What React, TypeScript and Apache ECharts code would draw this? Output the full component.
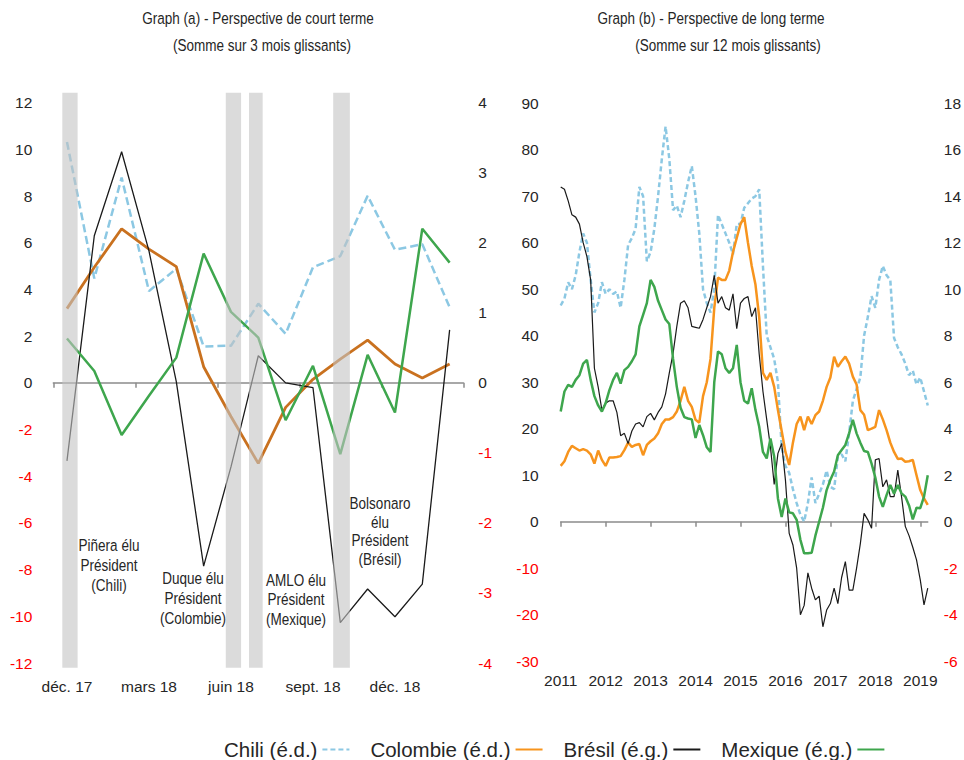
import React, { useEffect, useRef } from 'react';
import * as echarts from 'echarts';

// ---------- Graph (a): short term (3-month rolling sums) ----------
const shortMonths = ['déc. 17', 'janv. 18', 'févr. 18', 'mars 18', 'avr. 18', 'mai 18', 'juin 18', 'juil. 18', 'août 18', 'sept. 18', 'oct. 18', 'nov. 18', 'déc. 18', 'janv. 19', 'févr. 19'];
const shortChili = [3.44, 1.49, 2.93, 1.31, 1.63, 0.52, 0.53, 1.13, 0.70, 1.65, 1.81, 2.67, 1.90, 1.98, 1.08];
const shortColombie = [1.06, 1.65, 2.2, 1.91, 1.66, 0.23, -0.48, -1.15, -0.35, 0.05, 0.34, 0.61, 0.27, 0.07, 0.27];
const shortBresil = [-3.34, 6.3, 9.9, 5.65, 0.05, -7.85, -3.6, 1.16, 0.0, -0.2, -10.27, -8.83, -10.02, -8.62, 2.27];
const shortMexique = [1.9, 0.51, -2.23, -0.55, 1.08, 5.54, 3.04, 1.94, -1.6, 0.73, -3.05, 1.2, -1.27, 6.6, 5.15];
// election periods (in month-index units of graph a)
const electionBands = [[-0.17, 0.39], [5.81, 6.37], [6.66, 7.16], [9.74, 10.35]];
const bandTop = 12.43;
const bandBottom = -12.2;

// ---------- Graph (b): long term (12-month rolling sums) ----------
const longYears = ['2011', '2012', '2013', '2014', '2015', '2016', '2017', '2018', '2019'];
const monthCodes = ['01', '02', '03', '04', '05', '06', '07', '08', '09', '10', '11', '12'];
const longMonths: string[] = [];
longYears.forEach((y) => monthCodes.forEach((m) => longMonths.push(y + '-' + m)));
longMonths.length = 99; // janv. 2011 – mars 2019

const longChili = [
  9.3, 9.6, 10.3, 10.0, 10.6, 11.6, 12.4, 12.0, 10.4, 9.0,
  9.4, 10.3, 9.8, 10.0, 9.8, 9.9, 9.2, 10.4, 11.9, 12.2,
  12.6, 14.4, 14.0, 11.2, 11.6, 12.6, 14.0, 15.6, 17.0, 15.6,
  13.4, 13.6, 13.1, 13.8, 14.6, 15.3, 14.0, 12.4, 10.0, 9.4,
  9.0, 10.0, 13.2, 12.8, 12.4, 12.0, 11.5, 12.8, 12.8, 13.5,
  13.7, 13.9, 14.0, 14.3, 11.0, 8.0, 7.5, 7.0, 6.0, 3.2,
  2.4, 2.1, 1.4, 0.8, 0.3, 0.0, 0.8, 1.9, 0.8, 1.2,
  1.6, 2.2, 1.5, 1.4, 2.8, 2.9, 2.6, 3.8, 5.2, 5.7,
  6.2, 8.0, 8.8, 9.7, 9.2, 10.4, 11.0, 10.6, 10.4, 7.9,
  7.5, 7.2, 6.8, 6.3, 6.5, 5.9, 6.2, 5.6, 5.0,
];
const longColombie = [
  2.4, 2.6, 3.0, 3.26, 3.16, 3.06, 3.12, 3.06, 2.9, 2.5,
  3.06, 2.66, 2.4, 2.76, 2.76, 2.78, 2.82, 3.08, 3.4, 3.22,
  3.3, 3.34, 2.86, 3.3, 3.46, 3.58, 3.8, 4.2, 4.4, 4.4,
  4.5, 4.74, 5.2, 5.8, 5.2, 4.94, 4.38, 4.26, 5.4, 6.0,
  7.0, 9.2, 10.5, 10.4, 10.4, 10.8, 11.6, 12.2, 12.8, 13.1,
  12.0, 11.0, 10.2, 8.8, 6.4, 6.1, 6.4, 5.8, 4.8, 3.9,
  3.0, 2.44, 3.4, 4.2, 4.52, 3.94, 4.52, 4.2, 4.58, 4.74,
  5.2, 5.8, 6.2, 7.1, 6.66, 6.9, 7.1, 6.8, 6.24, 5.9,
  4.8, 4.6, 3.94, 4.0, 4.08, 4.8, 4.4, 3.94, 3.4, 3.0,
  2.7, 2.72, 2.58, 2.6, 2.66, 2.0, 1.36, 1.0, 0.72,
];
const longBresil = [
  72, 71.5, 69, 66, 65.5, 64, 60, 57, 52, 33,
  29, 24, 25.5, 26, 26, 23.5, 18.5, 19, 16.8, 19.5,
  21, 21.3, 20.4, 22.6, 23.3, 21.9, 23.5, 24.7, 27.5, 32,
  36.2, 42, 47, 47.5, 46, 42, 41.8, 41.6, 43.5, 46,
  48.4, 53, 47, 48.4, 46, 45.5, 49, 41.5, 47, 48,
  48.4, 44.1, 46, 36, 28, 22, 16.1, 8, 14.7, 16.8,
  9, -2.5, -5, -10, -20, -18, -11, -14.3, -16.8, -16,
  -22.6, -19, -17.6, -14.3, -17.6, -12, -8.6, -14.7, -14.7, -10,
  -4.7, 1.8, 0.4, -1.4, 13.3, 13.6, 7.5, 9, 5.4, 5.4,
  11.1, 5.4, -1, -3, -5.5, -8.2, -12.5, -17.9, -14.3,
];
const longMexique = [
  23.7, 28, 29.4, 29, 30.5, 31.5, 34, 34.8, 30.5, 27,
  25, 23.7, 25.5, 28.3, 30.5, 32, 29.7, 32.6, 33.3, 34.5,
  36, 42, 44.5, 47, 52, 50.5, 47.5, 45.5, 43.5, 42.5,
  35, 29, 24.5, 22.5, 22.2, 22, 18, 20.8, 18.6, 16,
  15, 30, 36.6, 36, 33, 32, 33, 38, 30, 26,
  25.4, 28.7, 24, 20.4, 15, 13.6, 17.9, 14, 5, 1,
  5, 2, 1.8, 0.4, -3.9, -6.8, -6.8, -6.7, -3, 0,
  3, 6.8, 9, 10.8, 14.3, 15.4, 16.5, 19, 21.9, 19,
  17, 15.2, 15, 12.5, 9.5, 5.4, 3.2, 5.7, 7.9, 6,
  7.9, 6.1, 5.4, 3.5, 0.5, 3, 2.9, 5.4, 10,
];

const seriesNames = ['Chili (é.d.)', 'Colombie (é.d.)', 'Brésil (é.g.)', 'Mexique (é.g.)'];

const FONT = "'Liberation Sans', Arial, Helvetica, sans-serif";
const TXT = '#262626';
const BLUE = '#8cc8e3';
const ORANGE = '#f7941d';
const ORANGE_DARK = '#c9711f';
const GREEN = '#3ea64d';
const BLACK = '#1a1a1a';
const AXIS_GREY = '#8c8c8c';
const TICK_SIZE = 15.5;

const labelColor = (v: any) => (Number(v) < 0 ? '#ff0000' : TXT);

function valueAxis(gridIndex: number, min: number, max: number, interval: number, position: string, margin: number) {
  return {
    type: 'value', gridIndex, min, max, interval, position,
    axisLine: { show: false }, axisTick: { show: false }, splitLine: { show: false },
    axisLabel: { margin, color: labelColor, fontSize: TICK_SIZE, fontFamily: FONT },
  };
}

function line(name: string, data: number[], xAxisIndex: number, yAxisIndex: number, color: string, width: number, type: any = 'solid') {
  return {
    type: 'line', name, data, xAxisIndex, yAxisIndex, symbol: 'none', showSymbol: false,
    lineStyle: { color, width, type }, itemStyle: { color }, z: 2,
  };
}

// condensed (Arial-Narrow-like) text: Liberation Sans squeezed horizontally
function textBlock(x: number, y: number, text: string, size: number, lh: number) {
  return {
    type: 'text', x, y, z: 100, scaleX: 0.82, scaleY: 1,
    style: { text, align: 'center', verticalAlign: 'middle', fontSize: size, lineHeight: lh, fontFamily: FONT, fill: TXT },
  };
}

const option: any = {
  animation: false,
  backgroundColor: '#ffffff',
  grid: [
    { left: 53.3, top: 102.7, width: 410, height: 560.3 },
    { left: 560.7, top: 103.2, width: 368.5, height: 558 },
  ],
  xAxis: [
    {
      type: 'category', gridIndex: 0, data: shortMonths, boundaryGap: true, position: 'bottom',
      axisLine: { onZero: true, lineStyle: { color: AXIS_GREY, width: 1.5 } },
      axisTick: { show: true, interval: 2, length: 5, lineStyle: { color: AXIS_GREY, width: 1.5 } },
      axisLabel: { show: false },
    },
    {
      type: 'category', gridIndex: 0, data: shortMonths, boundaryGap: true, position: 'bottom',
      axisLine: { show: false, onZero: false }, axisTick: { show: false },
      axisLabel: { interval: 2, margin: 15, color: TXT, fontSize: TICK_SIZE, fontFamily: FONT },
    },
    { type: 'value', gridIndex: 0, min: -0.5, max: 14.5, show: false, axisLine: { onZero: false } },
    {
      type: 'category', gridIndex: 1, data: longMonths, boundaryGap: false, position: 'bottom',
      axisLine: { onZero: true, lineStyle: { color: AXIS_GREY, width: 1.5 } },
      axisTick: { show: true, interval: 11, length: 5, lineStyle: { color: AXIS_GREY, width: 1.5 } },
      axisLabel: { show: false },
    },
    {
      type: 'category', gridIndex: 1, data: longMonths, boundaryGap: false, position: 'bottom',
      axisLine: { show: false, onZero: false }, axisTick: { show: false },
      axisLabel: { interval: 11, margin: 11, color: TXT, fontSize: TICK_SIZE, fontFamily: FONT, formatter: (v: string) => v.slice(0, 4) },
    },
  ],
  yAxis: [
    valueAxis(0, -12, 12, 2, 'left', 21),
    valueAxis(0, -4, 4, 1, 'right', 15),
    valueAxis(1, -30, 90, 10, 'left', 22),
    valueAxis(1, -6, 18, 2, 'right', 16),
  ],
  legend: {
    data: seriesNames,
    left: 219, top: 734,
    align: 'right',
    itemWidth: 27, itemHeight: 12, itemGap: 20,
    itemStyle: { opacity: 0 },
    textStyle: { fontSize: 20.5, fontFamily: FONT, color: TXT, lineHeight: 21 },
  },
  series: [
    // Graph (b)
    line(seriesNames[0], longChili, 3, 3, BLUE, 2.5, [5, 3]),
    line(seriesNames[1], longColombie, 3, 3, ORANGE, 2.5),
    line(seriesNames[2], longBresil, 3, 2, BLACK, 1.2),
    line(seriesNames[3], longMexique, 3, 2, GREEN, 2.5),
    // Graph (a)
    line(seriesNames[0], shortChili, 0, 1, BLUE, 2.5, [8, 4]),
    line(seriesNames[1], shortColombie, 0, 1, ORANGE_DARK, 2.8),
    line(seriesNames[2], shortBresil, 0, 0, BLACK, 1.3),
    line(seriesNames[3], shortMexique, 0, 0, GREEN, 2.5),
    {
      type: 'custom', name: 'bands', xAxisIndex: 2, yAxisIndex: 0, z: 5, clip: false,
      data: electionBands.map((b) => [b[0], b[1], bandTop, bandBottom]),
      encode: { x: [0, 1], y: [2, 3] },
      renderItem: (params: any, api: any) => {
        const p0 = api.coord([api.value(0), api.value(2)]);
        const p1 = api.coord([api.value(1), api.value(3)]);
        return {
          type: 'rect',
          shape: { x: p0[0], y: p0[1], width: p1[0] - p0[0], height: p1[1] - p0[1] },
          style: { fill: 'rgba(195,195,195,0.6)' },
        };
      },
    },
  ],
  graphic: [
    textBlock(258, 18, 'Graph (a) - Perspective de court terme', 16.5, 20),
    textBlock(262, 45, '(Somme sur 3 mois glissants)', 16.5, 20),
    textBlock(711, 18, 'Graph (b) - Perspective de long terme', 16.5, 20),
    textBlock(728, 45, '(Somme sur 12 mois glissants)', 16.5, 20),
    textBlock(109, 565, 'Piñera élu\nPrésident\n(Chili)', 16.5, 20),
    textBlock(193, 598, 'Duque élu\nPrésident\n(Colombie)', 16.5, 20),
    textBlock(296, 599, 'AMLO élu\nPrésident\n(Mexique)', 16.5, 19.5),
    textBlock(380, 531, 'Bolsonaro\nélu\nPrésident\n(Brésil)', 16.5, 19),
  ],
};

export default function App() {
  const ref = useRef<HTMLDivElement>(null);
  useEffect(() => {
    if (!ref.current) return;
    const chart = echarts.init(ref.current, null, { renderer: 'svg' });
    chart.setOption(option);
    return () => chart.dispose();
  }, []);
  return (
    <div
      ref={ref}
      style={{ position: 'fixed', left: 0, top: 0, width: 964, height: 760, background: '#ffffff' }}
    />
  );
}
